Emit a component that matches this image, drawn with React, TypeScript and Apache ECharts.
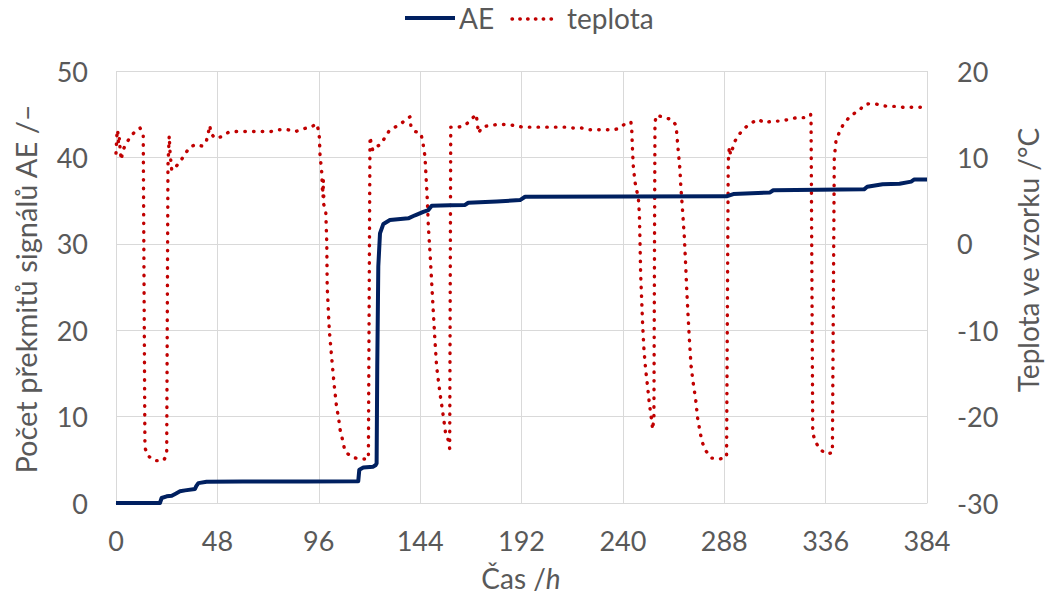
import React, { useEffect, useRef } from "react";
import * as echarts from "echarts";

// ---- data ----
const xTicks = [0, 48, 96, 144, 192, 240, 288, 336, 384];

const aeHours = [0, 20.8, 21.6, 24, 26.4, 28, 30.3, 32.7, 37.4, 38, 39, 42.9, 60, 90, 114.7, 115.2, 117.1, 121.8, 123, 123.4, 123.7, 124.2, 125, 126.6, 129.7, 138.4, 141.6, 145.5, 147.9, 149.5, 158.1, 165.3, 166.8, 180.3, 191.3, 193.7, 289.1, 292.3, 309.7, 311.2, 354.2, 355.7, 363, 371, 376.5, 378, 384];
const aeValues = [0, 0, 0.58, 0.77, 0.85, 1.05, 1.35, 1.46, 1.62, 1.95, 2.3, 2.46, 2.48, 2.5, 2.52, 3.85, 4.1, 4.2, 4.4, 4.6, 15.8, 27.4, 31.2, 32.3, 32.75, 32.95, 33.3, 33.7, 33.9, 34.4, 34.45, 34.5, 34.75, 34.9, 35.06, 35.45, 35.5, 35.76, 35.95, 36.2, 36.3, 36.6, 36.9, 36.95, 37.2, 37.45, 37.45];

const tempHours = [0, 0.4, 0.8, 1.2, 1.6, 2.0, 2.3, 2.6, 3.0, 4.3, 6.6, 9.0, 11.4, 12.9, 13.7, 15.0, 18.1, 22.4, 24.0, 24.6, 25.2, 25.6, 26.0, 26.4, 28.3, 30.6, 32.7, 35.0, 37.9, 40.9, 42.9, 44.5, 44.8, 47.0, 50.0, 53.2, 57.1, 61.1, 65, 69.3, 73.4, 77.2, 81.3, 85.1, 88.4, 92.3, 95.0, 95.8, 96.3, 96.6, 97.4, 97.8, 98.2, 98.0, 98.4, 98.3, 99.3, 99.8, 100.0, 101.0, 102.1, 103.2, 104.5, 105.3, 106.1, 106.9, 108.4, 111.6, 115.5, 119.5, 120.2, 120.3, 121.0, 121.6, 123.1, 125.3, 129.4, 132.1, 134.5, 137.3, 139.2, 139.6, 141.6, 144.3, 145.2, 146.3, 146.8, 147.4, 147.9, 148.7, 149.5, 150.2, 151.0, 151.8, 153.4, 155.0, 156.1, 157.3, 158.0, 158.5, 162.1, 165.2, 167.9, 170.5, 171.1, 171.6, 173.3, 176.8, 180.7, 184.7, 188.6, 192.6, 196.5, 200.4, 204.4, 208.7, 212.6, 216.5, 220.5, 224.4, 228.4, 232.3, 235.9, 238.6, 241.0, 243.8, 244.2, 244.5, 244.9, 245.7, 246.5, 247.3, 247.8, 248.1, 248.4, 248.9, 249.4, 250.0, 250.8, 251.7, 252.5, 253.6, 254.1, 254.7, 255.0, 255.2, 256.0, 259.5, 263.1, 265.2, 265.5, 266.2, 267.0, 267.4, 268.3, 269.1, 269.7, 270.2, 270.8, 271.5, 272.3, 273.3, 274.5, 275.4, 276.8, 277.8, 279.4, 282.0, 286.0, 289.1, 289.6, 289.9, 290.4, 291.0, 293.1, 295.5, 298.2, 301.0, 304.1, 307.0, 310.8, 314.7, 318.7, 322.3, 326.2, 328.9, 329.1, 329.9, 331.0, 333.0, 336.0, 339.2, 340.1, 340.9, 342.3, 344.1, 346.7, 349.6, 352.3, 353.8, 356.2, 359.7, 362.5, 365.7, 368.8, 372.8, 376.8, 380.7, 384];
const tempValues = [10.5, 12.5, 13.2, 11.5, 12.2, 10.8, 10.2, 9.7, 10.6, 11.4, 12.3, 13.0, 13.4, 12.5, -23.6, -24.5, -25.1, -25.1, -24.5, 9.0, 12.5, 10.5, 9.5, 8.5, 8.9, 9.6, 10.4, 11.2, 11.5, 11.3, 12.0, 13.7, 12.8, 12.2, 12.4, 12.9, 13.0, 13.0, 13.0, 13.0, 13.0, 13.2, 13.2, 13.0, 13.3, 13.5, 13.9, 13.2, 12.3, 10.3, 8.3, 5.8, 7.4, 5.0, 6.0, 4.6, 3.9, 0.1, -5.0, -10, -13.1, -16.1, -19.0, -20.0, -21.5, -22.3, -24.0, -24.7, -24.9, -24.9, 9.5, 12.4, 11.3, 10.8, 11.2, 11.5, 13.1, 13.5, 13.8, 14.4, 14.7, 13.7, 13.0, 12.8, 11.9, 10.1, 7.8, 5.1, 2.0, -1.1, -4.6, -7.7, -11.1, -14.2, -17.3, -20.0, -22.0, -22.7, -23.7, 13.5, 13.5, 13.7, 14.3, 15.0, 14.0, 12.8, 13.5, 13.7, 13.8, 13.8, 13.7, 13.5, 13.5, 13.5, 13.5, 13.5, 13.5, 13.4, 13.4, 13.2, 13.2, 13.2, 13.2, 13.4, 13.9, 14.1, 13.2, 11.2, 9.1, 7.2, 6.2, 5.4, 3.5, 0.4, -3.4, -6.5, -9.6, -12.3, -14.6, -16.5, -18.4, -20.4, -21.5, -20.0, 1.2, 14.1, 14.9, 14.6, 14.4, 13.7, 12.8, 10.8, 8.7, 6.8, 3.7, 0.8, -2.3, -5.1, -8.0, -11.1, -14.2, -16.1, -18.1, -20.2, -22.1, -23.1, -24.0, -24.8, -24.9, -24.7, -2.6, 9.5, 11.2, 10.3, 11.9, 12.8, 13.5, 14.0, 14.4, 14.0, 14.2, 14.2, 14.4, 14.6, 14.6, 15.0, 14.3, -21.9, -22.8, -23.7, -24.3, -24.2, 9.9, 11.9, 12.8, 13.7, 14.5, 15.1, 15.5, 16.0, 16.2, 16.2, 16.0, 15.9, 15.9, 15.8, 15.8, 15.8, 15.8];

const seriesNames = ["AE", "teplota"];
const leftTitle = "Počet překmitů signálů AE /–";
const rightTitle = "Teplota ve vzorku /°C";

const FONT = "Lato, 'Open Sans', sans-serif";
const TXT = "#595959";
const GRID = "#D9D9D9";
const NAVY = "#002060";
const RED = "#C00000";

export default function App() {
  const ref = useRef<HTMLDivElement>(null);
  useEffect(() => {
    if (!ref.current) return;
    const chart = echarts.init(ref.current, undefined, { renderer: "svg" });
    const aeData = aeHours.map((h, i) => [h, aeValues[i]]);
    const tData = tempHours.map((h, i) => [h, tempValues[i]]);
    chart.setOption({
      animation: false,
      grid: { left: 116, right: 119, top: 71, bottom: 97 },
      xAxis: {
        type: "value",
        min: xTicks[0],
        max: xTicks[xTicks.length - 1],
        interval: 48,
        axisLine: { show: true, lineStyle: { color: GRID, width: 1 } },
        axisTick: { show: false },
        splitLine: { show: true, lineStyle: { color: GRID, width: 1 } },
        axisLabel: { color: TXT, fontSize: 27, fontFamily: FONT, margin: 24 },
      },
      yAxis: [
        {
          type: "value",
          min: 0,
          max: 50,
          interval: 10,
          position: "left",
          axisLine: { show: false },
          axisTick: { show: false },
          splitLine: { show: true, lineStyle: { color: GRID, width: 1 } },
          axisLabel: { color: TXT, fontSize: 27, fontFamily: FONT, margin: 28 },
        },
        {
          type: "value",
          min: -30,
          max: 20,
          interval: 10,
          position: "right",
          axisLine: { show: false },
          axisTick: { show: false },
          splitLine: { show: false },
          axisLabel: { color: TXT, fontSize: 27, fontFamily: FONT, margin: 30 },
        },
      ],
      series: [
        {
          name: seriesNames[0],
          type: "line",
          yAxisIndex: 0,
          data: aeData,
          showSymbol: false,
          symbol: "none",
          lineStyle: { color: NAVY, width: 4, join: "round" },
          z: 3,
        },
        {
          name: seriesNames[1],
          type: "line",
          yAxisIndex: 1,
          data: tData,
          showSymbol: false,
          symbol: "none",
          lineStyle: { color: RED, width: 3.4, type: [0.5, 8.2], cap: "round", join: "round" },
          z: 2,
        },
      ],
      graphic: [
        { type: "line", shape: { x1: 405, y1: 18, x2: 455, y2: 18 }, style: { stroke: NAVY, lineWidth: 4 } },
        { type: "text", x: 459, y: 18, style: { text: seriesNames[0], fill: TXT, fontSize: 28, fontFamily: FONT, verticalAlign: "middle", align: "left" } },
        { type: "line", shape: { x1: 512, y1: 19, x2: 558, y2: 19 }, style: { stroke: RED, lineWidth: 3.4, lineDash: [0.5, 7.3], lineCap: "round" } },
        { type: "text", x: 567, y: 18, style: { text: seriesNames[1], fill: TXT, fontSize: 28, fontFamily: FONT, verticalAlign: "middle", align: "left" } },
        { type: "text", x: 25, y: 289, rotation: Math.PI / 2, style: { text: leftTitle, fill: TXT, fontSize: 29, fontFamily: FONT, align: "center", verticalAlign: "middle" } },
        { type: "text", x: 1028, y: 260, rotation: Math.PI / 2, style: { text: rightTitle, fill: TXT, fontSize: 28, fontFamily: FONT, align: "center", verticalAlign: "middle" } },
        {
          type: "text", x: 521, y: 578,
          style: {
            text: "Čas /{i|h}", fill: TXT, fontSize: 28, fontFamily: FONT, align: "center", verticalAlign: "middle",
            rich: { i: { fontStyle: "italic", fontSize: 28, fontFamily: FONT, fill: TXT } },
          },
        },
      ],
    });
    return () => chart.dispose();
  }, []);
  return <div ref={ref} style={{ position: "absolute", left: 0, top: 0, width: 1046, height: 600 }} />;
}
